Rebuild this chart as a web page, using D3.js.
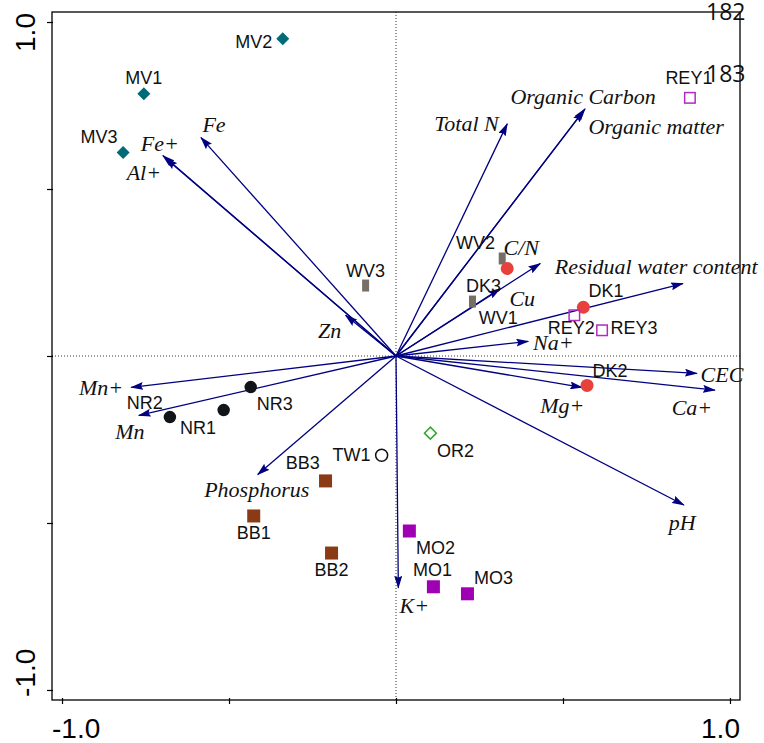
<!DOCTYPE html>
<html>
<head>
<meta charset="utf-8">
<script src="https://cdn.jsdelivr.net/npm/d3@7"></script>
<style>
  body { margin: 0; background: #fff; }
</style>
</head>
<body>
<svg id="chart"></svg>
<script>
// environmental variables (arrows), biplot scores
var arrowNames  = ["Fe+", "Al+", "Fe", "Zn", "Total N", "Organic Carbon", "Organic matter", "C/N", "Cu",
                   "Residual water content", "Na+", "CEC", "Ca+", "Mg+", "pH", "K+", "Phosphorus", "Mn+", "Mn"];
var arrowX      = [-0.698, -0.690, -0.584, -0.151, 0.333, 0.566, 0.562, 0.432, 0.312,
                   0.859, 0.396, 0.901, 0.955, 0.557, 0.862, 0.007, -0.414, -0.793, -0.770];
var arrowY      = [0.600, 0.592, 0.654, 0.122, 0.695, 0.740, 0.735, 0.277, 0.202,
                   0.217, 0.044, -0.052, -0.102, -0.094, -0.446, -0.694, -0.355, -0.094, -0.178];
var arrowLabelX = [-0.707, -0.755, -0.545, -0.199, 0.211, 0.560, 0.779, 0.375, 0.378,
                   0.779, 0.471, 0.976, 0.886, 0.498, 0.857, 0.055, -0.417, -0.883, -0.797];
var arrowLabelY = [0.635, 0.549, 0.692, 0.077, 0.695, 0.776, 0.686, 0.324, 0.172,
                   0.268, 0.041, -0.055, -0.156, -0.150, -0.500, -0.748, -0.401, -0.096, -0.228];

// sample scores
var sampleNames  = ["MV1", "MV2", "MV3", "WV1", "WV2", "WV3", "DK1", "DK2", "DK3", "REY1", "REY2", "REY3",
                    "NR1", "NR2", "NR3", "BB1", "BB2", "BB3", "TW1", "OR2", "MO1", "MO2", "MO3"];
var sampleGroup  = ["MV", "MV", "MV", "WV", "WV", "WV", "DK", "DK", "DK", "REY", "REY", "REY",
                    "NR", "NR", "NR", "BB", "BB", "BB", "TW", "OR", "MO", "MO", "MO"];
var sampleX      = [-0.755, -0.339, -0.817, 0.229, 0.318, -0.091, 0.561, 0.572, 0.333, 0.880, 0.534, 0.617,
                    -0.516, -0.677, -0.435, -0.426, -0.193, -0.211, -0.043, 0.103, 0.112, 0.040, 0.214];
var sampleY      = [0.785, 0.950, 0.609, 0.163, 0.292, 0.211, 0.146, -0.088, 0.262, 0.773, 0.122, 0.077,
                    -0.162, -0.183, -0.093, -0.479, -0.590, -0.374, -0.297, -0.231, -0.691, -0.524, -0.712];
var sampleLabelX = [-0.755, -0.426, -0.889, 0.306, 0.238, -0.091, 0.629, 0.641, 0.262, 0.877, 0.525, 0.713,
                    -0.593, -0.752, -0.363, -0.426, -0.193, -0.279, -0.133, 0.178, 0.109, 0.118, 0.292];
var sampleLabelY = [0.833, 0.943, 0.657, 0.116, 0.340, 0.256, 0.196, -0.043, 0.211, 0.833, 0.086, 0.086,
                    -0.213, -0.138, -0.141, -0.530, -0.640, -0.320, -0.296, -0.282, -0.640, -0.572, -0.664];

var tickValues = [-1, -0.5, 0, 0.5, 1];
var strayLabels = ["182", "183"];

var width = 764, height = 743;
var frame = {left: 52, right: 740, top: 12, bottom: 700};

var svg = d3.select('#chart')
            .attr('width', width)
            .attr('height', height);

var xScale = d3.scaleLinear().domain([-1.03, 1.03]).range([frame.left, frame.right]);
var yScale = d3.scaleLinear().domain([-1.03, 1.03]).range([frame.bottom, frame.top]);

// symbol styles per group
var styles = {
  MV:  {shape: 'diamond', fill: '#006a78', stroke: 'none', size: 13},
  WV:  {shape: 'bar',     fill: '#776f66', stroke: 'none', size: 12},
  DK:  {shape: 'circle',  fill: '#e8403a', stroke: 'none', size: 13},
  REY: {shape: 'square',  fill: 'none',    stroke: '#b02cc0', size: 12},
  NR:  {shape: 'circle',  fill: '#111418', stroke: 'none', size: 12.5},
  BB:  {shape: 'square',  fill: '#8a3a14', stroke: 'none', size: 13},
  TW:  {shape: 'circle',  fill: 'none',    stroke: '#111', size: 12},
  OR:  {shape: 'diamond', fill: 'none',    stroke: '#33a733', size: 12},
  MO:  {shape: 'square',  fill: '#a000b4', stroke: 'none', size: 13}
};

// frame
svg.append('rect')
   .attr('x', frame.left).attr('y', frame.top)
   .attr('width', frame.right - frame.left)
   .attr('height', frame.bottom - frame.top)
   .attr('fill', 'none')
   .attr('stroke', '#000')
   .attr('stroke-width', 1.3);

// zero lines
svg.append('line')
   .attr('x1', xScale(0)).attr('x2', xScale(0))
   .attr('y1', frame.top).attr('y2', frame.bottom)
   .attr('stroke', '#000').attr('stroke-width', 0.8)
   .attr('stroke-dasharray', '1,2');
svg.append('line')
   .attr('x1', frame.left).attr('x2', frame.right)
   .attr('y1', yScale(0)).attr('y2', yScale(0))
   .attr('stroke', '#000').attr('stroke-width', 0.8)
   .attr('stroke-dasharray', '1,2');

// axes (ticks only, crossing the frame a little)
var xAxis = d3.axisBottom(xScale).tickValues(tickValues).tickSize(6).tickFormat('');
var yAxis = d3.axisLeft(yScale).tickValues(tickValues).tickSize(6).tickFormat('');

svg.append('g')
   .attr('class', 'x_axis')
   .attr('transform', 'translate(0,' + (frame.bottom - 2) + ')')
   .call(xAxis)
   .call(function(g){ g.select('.domain').remove(); });

svg.append('g')
   .attr('class', 'y_axis')
   .attr('transform', 'translate(' + (frame.left + 1) + ',0)')
   .call(yAxis)
   .call(function(g){ g.select('.domain').remove(); });

svg.selectAll('.tick line').attr('stroke', '#000').attr('stroke-width', 1.2);

var tickFont = "'Liberation Sans', Arial, sans-serif";
svg.append('text')
   .attr('x', xScale(-1) - 10).attr('y', 738)
   .attr('text-anchor', 'start')
   .style('font-family', tickFont).style('font-size', '28px')
   .text('-1.0');
svg.append('text')
   .attr('x', xScale(1) + 10).attr('y', 738)
   .attr('text-anchor', 'end')
   .style('font-family', tickFont).style('font-size', '28px')
   .text('1.0');
svg.append('text')
   .attr('transform', 'translate(35,' + (yScale(1) - 9) + ') rotate(-90)')
   .attr('text-anchor', 'end')
   .style('font-family', tickFont).style('font-size', '28px')
   .text('1.0');
svg.append('text')
   .attr('transform', 'translate(35,' + (yScale(-1) + 7) + ') rotate(-90)')
   .attr('text-anchor', 'start')
   .style('font-family', tickFont).style('font-size', '28px')
   .text('-1.0');

// arrow heads
svg.append('defs').append('marker')
   .attr('id', 'head')
   .attr('markerUnits', 'userSpaceOnUse')
   .attr('markerWidth', 13).attr('markerHeight', 8)
   .attr('refX', 12).attr('refY', 4)
   .attr('orient', 'auto')
   .append('path')
   .attr('d', 'M0,0 L13,4 L0,8 L2,4 Z')
   .attr('fill', '#000080');

var arrows = arrowNames.map(function(n, i){
  return {name: n, x: arrowX[i], y: arrowY[i], lx: arrowLabelX[i], ly: arrowLabelY[i]};
});

svg.append('g').selectAll('line')
   .data(arrows)
   .enter().append('line')
   .attr('x1', xScale(0)).attr('y1', yScale(0))
   .attr('x2', function(d){ return xScale(d.x); })
   .attr('y2', function(d){ return yScale(d.y); })
   .attr('stroke', '#000080')
   .attr('stroke-width', 1.3)
   .attr('marker-end', 'url(#head)');

svg.append('g').selectAll('text')
   .data(arrows)
   .enter().append('text')
   .attr('x', function(d){ return xScale(d.lx); })
   .attr('y', function(d){ return yScale(d.ly); })
   .attr('dy', '0.33em')
   .attr('text-anchor', 'middle')
   .style('font-family', "'Liberation Serif', 'Times New Roman', serif")
   .style('font-style', 'italic')
   .style('font-size', '22px')
   .attr('fill', '#111')
   .text(function(d){ return d.name; });

// samples
var samples = sampleNames.map(function(n, i){
  return {name: n, group: sampleGroup[i], x: sampleX[i], y: sampleY[i], lx: sampleLabelX[i], ly: sampleLabelY[i]};
});

var symG = svg.append('g');
samples.forEach(function(d){
  var st = styles[d.group];
  var cx = xScale(d.x), cy = yScale(d.y), s = st.size;
  var el;
  if (st.shape === 'circle') {
    el = symG.append('circle').attr('cx', cx).attr('cy', cy).attr('r', s / 2);
  } else if (st.shape === 'square') {
    var w = st.stroke === 'none' ? s : s - 1.5;
    el = symG.append('rect').attr('x', cx - w / 2).attr('y', cy - w / 2).attr('width', w).attr('height', w);
  } else if (st.shape === 'bar') {
    el = symG.append('rect').attr('x', cx - 3.5).attr('y', cy - s / 2).attr('width', 7).attr('height', s);
  } else {
    var h = s / 2;
    el = symG.append('path').attr('d', 'M' + cx + ',' + (cy - h) + 'L' + (cx + h) + ',' + cy +
                                      'L' + cx + ',' + (cy + h) + 'L' + (cx - h) + ',' + cy + 'Z');
  }
  el.attr('fill', st.fill)
    .attr('stroke', st.stroke)
    .attr('stroke-width', st.stroke === 'none' ? 0 : 1.5);
});

svg.append('g').selectAll('text')
   .data(samples)
   .enter().append('text')
   .attr('x', function(d){ return xScale(d.lx); })
   .attr('y', function(d){ return yScale(d.ly); })
   .attr('dy', '0.36em')
   .attr('text-anchor', 'middle')
   .style('font-family', "'Liberation Sans', Arial, sans-serif")
   .style('font-size', '18px')
   .attr('fill', '#111')
   .text(function(d){ return d.name; });

// stray numbers at top right
svg.append('g').selectAll('text')
   .data(strayLabels)
   .enter().append('text')
   .attr('x', 706)
   .attr('y', function(d, i){ return 20 + i * 62; })
   .style('font-family', "'Open Sans', 'Noto Sans', sans-serif")
   .style('font-size', '23px')
   .attr('fill', '#111')
   .text(function(d){ return d; });
</script>
</body>
</html>
